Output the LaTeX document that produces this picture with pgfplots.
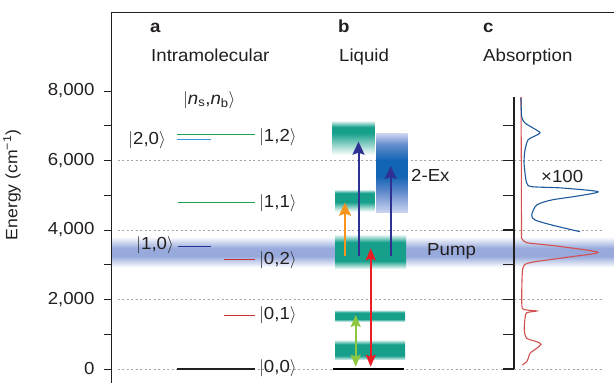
\documentclass[border=0pt]{standalone}
\usepackage{fontspec}
\setmainfont{Liberation Sans}[FakeStretch=1.07]
\usepackage{pgfplots}
\pgfplotsset{compat=1.18}
\usetikzlibrary{arrows.meta}

\definecolor{tealc}{RGB}{22,160,140}
\definecolor{pumpc}{RGB}{152,170,220}
\definecolor{exdark}{RGB}{18,100,180}
\definecolor{exmid}{RGB}{100,140,205}
\definecolor{exlight}{RGB}{205,214,240}
\definecolor{navyc}{RGB}{46,49,146}
\definecolor{orangec}{RGB}{247,148,29}
\definecolor{redc}{RGB}{237,28,36}
\definecolor{greenc}{RGB}{141,198,63}
\definecolor{lvred}{RGB}{205,50,55}
\definecolor{lvgreen}{RGB}{30,160,80}
\definecolor{lvnavy}{RGB}{40,50,150}
\definecolor{lvlight}{RGB}{50,150,220}
\definecolor{specred}{RGB}{210,80,80}
\definecolor{specblue}{RGB}{30,90,155}
\definecolor{gridc}{RGB}{165,165,165}
\definecolor{textc}{RGB}{35,31,32}

\pgfdeclareverticalshading{pumpsh}{100bp}{color(0bp)=(white); color(25bp)=(white); color(43bp)=(pumpc); color(56bp)=(pumpc); color(75bp)=(white); color(100bp)=(white)}
\pgfdeclareverticalshading{tealtop}{100bp}{color(0bp)=(white); color(25bp)=(white); color(58bp)=(tealc); color(67bp)=(tealc); color(75bp)=(tealc!20); color(100bp)=(tealc!20)}
\pgfdeclareverticalshading{tealmid}{100bp}{color(0bp)=(white); color(25bp)=(white); color(47bp)=(tealc); color(68bp)=(tealc); color(75bp)=(tealc!20); color(100bp)=(tealc!20)}
\pgfdeclareverticalshading{tealflat}{100bp}{color(0bp)=(white); color(25bp)=(tealc!10); color(36bp)=(tealc); color(64bp)=(tealc); color(75bp)=(tealc!10); color(100bp)=(white)}
\pgfdeclareverticalshading{twoex}{100bp}{color(0bp)=(exlight); color(25bp)=(exlight); color(38bp)=(exmid); color(48bp)=(exdark); color(58bp)=(exdark); color(68bp)=(exmid); color(75bp)=(exlight); color(100bp)=(exlight)}

\begin{document}
\begin{tikzpicture}[
  lab/.style={font=\fontsize{17.5}{21}\selectfont, text=textc, inner sep=0pt},
  arr/.style={line width=2bp, -{Stealth[length=13bp, width=12bp, inset=2bp]}},
  darr/.style={line width=2bp, {Stealth[length=12bp, width=10bp, inset=2bp]}-{Stealth[length=12bp, width=10bp, inset=2bp]}},
]
\begin{axis}[
  scale only axis, width=503bp, height=371bp,
  xmin=111, xmax=614, ymin=-403, ymax=10273,
  axis x line*=top, axis y line*=left,
  xtick=\empty,
  ytick={0,2000,4000,6000,8000},
  minor ytick={1000,3000,5000,7000},
  scaled y ticks=false,
  tick align=outside,
  major tick length=7bp, minor tick length=7bp,
  /pgf/number format/1000 sep={,},
  /pgf/number format/assume math mode=true,
  yticklabel style={font=\fontsize{17.5}{20}\selectfont, text=textc, xshift=-6bp},
  axis line style={textc, line width=0.9bp},
  tick style={textc, line width=0.9bp},
  ylabel={Energy (cm\textsuperscript{−1})},
  ylabel style={at={(rel axis cs:-0.197,0.534)}, anchor=center, font=\fontsize{16.5}{19}\selectfont, text=textc},
  axis on top,
]
% grid lines
\addplot[gridc, line width=0.9bp, dash pattern=on 2bp off 2.5bp] coordinates {(118,0) (603,0)};
\addplot[gridc, line width=0.9bp, dash pattern=on 2bp off 2.5bp] coordinates {(118,2000) (603,2000)};
\addplot[gridc, line width=0.9bp, dash pattern=on 2bp off 2.5bp] coordinates {(118,4000) (603,4000)};
\addplot[gridc, line width=0.9bp, dash pattern=on 2bp off 2.5bp] coordinates {(118,6000) (603,6000)};
% pump band
\addplot[draw=none, shade, shading=pumpsh] coordinates {(111.5,2927) (614,2927) (614,3808) (111.5,3808)};
% panel b bands
\addplot[draw=none, shade, shading=tealtop] coordinates {(332,6159) (374.5,6159) (374.5,7116) (332,7116)};
\addplot[draw=none, shade, shading=tealmid] coordinates {(335,4527) (374.5,4527) (374.5,5152) (335,5152)};
\addplot[draw=none, shade, shading=twoex] coordinates {(376,4490) (407.5,4490) (407.5,6783) (376,6783)};
\addplot[draw=none, shade, shading=tealflat] coordinates {(335,2897) (406,2897) (406,3857) (335,3857)};
\addplot[draw=none, shade, shading=tealflat] coordinates {(335,1362) (405,1362) (405,1698) (335,1698)};
\addplot[draw=none, shade, shading=tealflat] coordinates {(335,259) (405,259) (405,835) (335,835)};
% panel a levels
\addplot[textc, line width=1.5bp] coordinates {(177,0) (255,0)};
\addplot[lvred, line width=1.2bp] coordinates {(223.5,1534) (255,1534)};
\addplot[lvred, line width=1.2bp] coordinates {(223.5,3157) (255,3157)};
\addplot[lvnavy, line width=1.2bp] coordinates {(177.5,3520) (210.7,3520)};
\addplot[lvgreen, line width=1.2bp] coordinates {(177.5,4797) (255,4797)};
\addplot[lvgreen, line width=1.2bp] coordinates {(176.7,6754) (255,6754)};
\addplot[lvlight, line width=1.2bp] coordinates {(176.7,6610) (210.7,6610)};
% panel b ground line
\addplot[black, line width=2bp] coordinates {(333,0) (404,0)};
% arrows
\addplot[navyc, arr] coordinates {(358.5,3252) (358.5,6542)};
\addplot[navyc, arr] coordinates {(390.7,3252) (390.7,5842)};
\addplot[orangec, arr] coordinates {(345,3252) (345,4787)};
\addplot[redc, darr] coordinates {(370.7,66) (370.7,3473)};
\addplot[greenc, darr] coordinates {(355.7,66) (355.7,1554)};
% panel c axis
\addplot[textc, line width=1.3bp] coordinates {(514,-10) (514,7830)};
\addplot[textc, line width=1.1bp, unbounded coords=jump] coordinates {
 (503,0) (514,0) (503,nan) (503,1000) (514,1000) (503,nan)
 (503,2000) (514,2000) (503,nan) (503,3000) (514,3000) (503,nan)
 (503,4000) (514,4000) (503,nan) (503,5000) (514,5000) (503,nan)
 (503,6000) (514,6000) (503,nan) (503,7000) (514,7000)};
% spectra
\addplot[specred, line width=1.1bp, smooth, tension=0.45] table {
x y
521.0 7830
521.3 6000
521.5 4000
521.7 3761
526.7 3636
544 3578
561.7 3520
598 3358
571.7 3232
535 3088
524.3 2993
522.3 2754
521.7 2081
522.3 1747
526.7 1698
536.7 1669
526.7 1620
525 1459
524.3 1122
526.7 883
536.7 786
541 711
536.7 596
530 452
528.3 308
526.7 210
522.3 115
};
\addplot[specblue, line width=1.1bp, smooth, tension=0.45] table {
x y
521 7800
521.7 7261
525 7080
533 6936
540 6800
535 6706
528 6591
525 6303
524 5966
525 5641
526.7 5353
531.7 5247
561.7 5209
598 5103
578 4979
551.7 4864
536.7 4720
531.7 4432
535 4288
551.7 4144
580 3951
};
% labels
\node[lab, anchor=base west] at (axis cs:150,9670) {\textbf{a}};
\node[lab, anchor=base west] at (axis cs:151,8842) {Intramolecular};
\node[lab, anchor=base west] at (axis cs:338,9670) {\textbf{b}};
\node[lab, anchor=base west] at (axis cs:339,8842) {Liquid};
\node[lab, anchor=base west] at (axis cs:483,9670) {\textbf{c}};
\node[lab, anchor=base west] at (axis cs:483,8842) {Absorption};
\node[lab, anchor=west] at (axis cs:183,7742) {$\vert$\textit{n}\textsubscript{s},\textit{n}\textsubscript{b}$\rangle$};
\node[lab, anchor=east] at (axis cs:166,6591) {$\vert$2,0$\rangle$};
\node[lab, anchor=west] at (axis cs:259,6677) {$\vert$1,2$\rangle$};
\node[lab, anchor=west] at (axis cs:259,4769) {$\vert$1,1$\rangle$};
\node[lab, anchor=east] at (axis cs:174,3569) {$\vert$1,0$\rangle$};
\node[lab, anchor=west] at (axis cs:259,3137) {$\vert$0,2$\rangle$};
\node[lab, anchor=west] at (axis cs:259,1554) {$\vert$0,1$\rangle$};
\node[lab, anchor=west] at (axis cs:259,20) {$\vert$0,0$\rangle$};
\node[lab, anchor=west] at (axis cs:411,5583) {2-Ex};
\node[lab, anchor=west] at (axis cs:541,5534) {×100};
\node[lab, anchor=west] at (axis cs:427,3376) {Pump};
\end{axis}
\pgfresetboundingbox
\path[use as bounding box] (-111bp,0bp) rectangle (503bp,383bp);
\end{tikzpicture}
\end{document}
